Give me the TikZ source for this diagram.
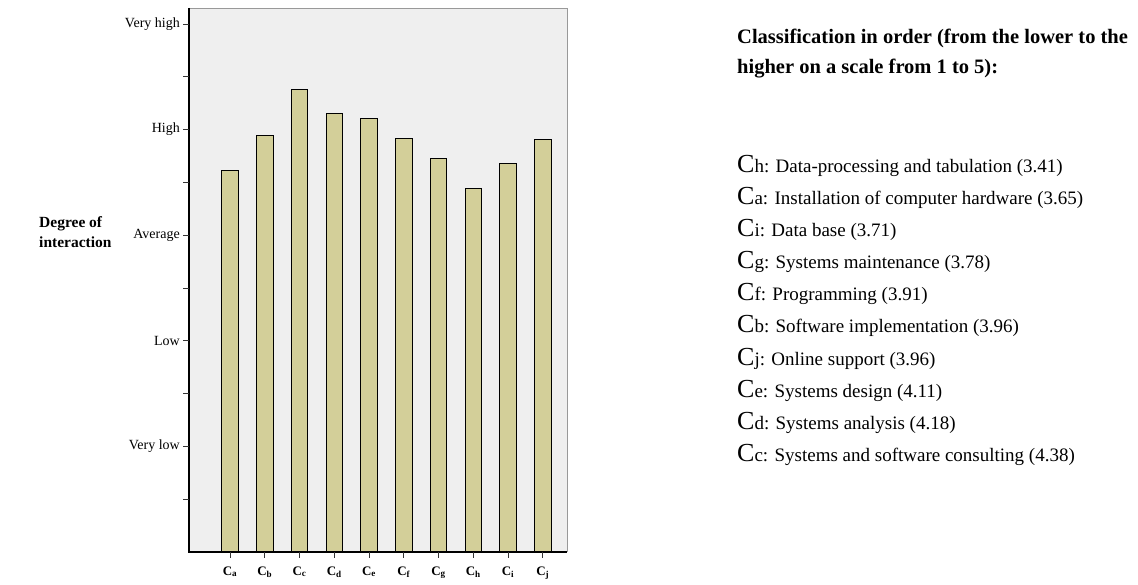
\documentclass[tikz,border=0pt]{standalone}
\usepackage{fontspec}
\setmainfont{Liberation Serif}
\definecolor{barfill}{HTML}{D3CF99}
\definecolor{plotbg}{HTML}{EFEFEF}
\tikzset{
  ticklab/.style={anchor=east, inner sep=0pt, font=\fontsize{14}{16}\selectfont},
  catlab/.style={anchor=base, inner sep=0pt, font=\bfseries\fontsize{13}{14}\selectfont},
  listline/.style={anchor=base west, inner sep=0pt, font=\fontsize{19}{22}\selectfont},
  barbox/.style={draw=black, line width=0.9pt, fill=barfill},
}
\newcommand{\bigC}{{\fontsize{26}{26}\selectfont C}}
\begin{document}
\begin{tikzpicture}[x=1pt,y=-1pt]
\useasboundingbox (0,0) rectangle (1138,585);
% plot area
\fill[plotbg] (189,8) rectangle (567,552);
\draw[gray!80, line width=0.8pt] (189,8) -- (567,8) -- (567,552);
% bars
\foreach \i/\t in {0/170,1/135,2/89,3/113,4/118,5/138,6/158,7/188,8/163,9/139}{
  \draw[barbox] ({230+34.75*\i-8.25},552) rectangle ({230+34.75*\i+8.25},\t);
}
% axes
\draw[black, line width=1.1pt] (189,8) -- (189,552) -- (567,552);
% y ticks
\foreach \k in {1,...,10}{
  \draw[black!80, line width=0.8pt] (183,{552-52.8*\k}) -- (189,{552-52.8*\k});
}
\node[ticklab] (vlow) at (180,{552-52.8*2}) {Very low};
\node[ticklab] (low) at (180,{552-52.8*4}) {Low};
\node[ticklab] (avg) at (180,{552-52.8*6}) {Average};
\node[ticklab] (high) at (180,{552-52.8*8}) {High};
\node[ticklab] (vhigh) at (180,{552-52.8*10}) {Very high};
% y axis title
\node[anchor=west, align=left, inner sep=0pt, font=\bfseries\fontsize{15.5}{19.5}\selectfont] (ytitle) at (39,232) {Degree of\\interaction};
% x ticks and labels
\foreach \i/\l in {0/a,1/b,2/c,3/d,4/e,5/f,6/g,7/h,8/i,9/j}{
  \draw[black!80, line width=0.8pt] ({230+34.75*\i},552) -- ({230+34.75*\i},558);
  \node[catlab] (cat\l) at ({230+34.75*\i},575) {C\textsubscript{\l}};
}
% right text
\node[anchor=north west, align=left, inner sep=0pt, font=\bfseries\fontsize{20.5}{29.5}\selectfont] (head) at (737,29) {Classification in order (from the lower to the\\higher on a scale from 1 to 5):};
\node[listline] (lh) at (737,173) {\bigC h: Data-processing and tabulation (3.41)};
\node[listline] (la) at (737,205) {\bigC a: Installation of computer hardware (3.65)};
\node[listline] (li) at (737,237) {\bigC i: Data base (3.71)};
\node[listline] (lg) at (737,269) {\bigC g: Systems maintenance (3.78)};
\node[listline] (lf) at (737,301) {\bigC f: Programming (3.91)};
\node[listline] (lb) at (737,333) {\bigC b: Software implementation (3.96)};
\node[listline] (lj) at (737,365) {\bigC j: Online support (3.96)};
\node[listline] (le) at (737,397) {\bigC e: Systems design (4.11)};
\node[listline] (ld) at (737,429) {\bigC d: Systems analysis (4.18)};
\node[listline] (lc) at (737,461) {\bigC c: Systems and software consulting (4.38)};
\end{tikzpicture}
\end{document}
